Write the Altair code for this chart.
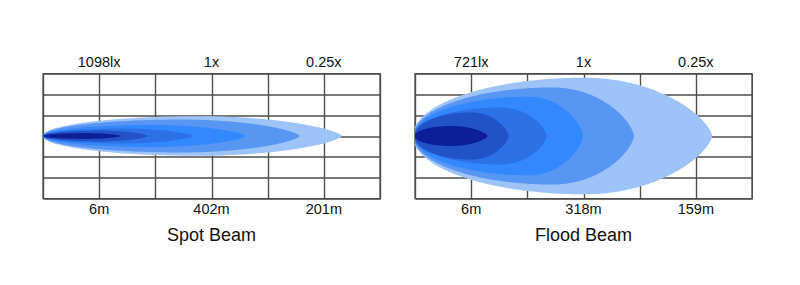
import altair as alt
import numpy as np
import pandas as pd

# ---- data ----
label_pos = [1, 3, 5]                      # grid columns under/over which labels sit

spot_top = ["1098lx", "1x", "0.25x"]
spot_bottom = ["6m", "402m", "201m"]
spot_title = "Spot Beam"
spot_reach = [5.32, 4.57, 3.60, 2.66, 1.87, 1.39]   # length of each contour (grid columns)
spot_half = [0.95, 0.79, 0.53, 0.36, 0.26, 0.14]    # half width of each contour (grid rows)
spot_peak = [0.52, 0.54, 0.54, 0.54, 0.54, 0.54]    # relative position of widest point

flood_top = ["721lx", "1x", "0.25x"]
flood_bottom = ["6m", "318m", "159m"]
flood_title = "Flood Beam"
flood_reach = [5.29, 3.90, 2.99, 2.35, 1.67, 1.29]
flood_half = [2.80, 2.33, 1.89, 1.37, 1.13, 0.48]
flood_peak = [0.57, 0.63, 0.68, 0.65, 0.60, 0.50]

colors = ["#9EC3F9", "#5796F3", "#3388FF", "#2C72E6", "#2152C6", "#0C1F98"]

W, H = 337, 125
FONT = "Liberation Sans"


def outline(reach, half, peak, lead):
    s = np.linspace(0, 1, 241)
    t = (1 - np.cos(np.pi * s)) / 2
    u = np.where(t < peak, (t - peak) / (peak * lead), (t - peak) / (1 - peak))
    base = np.clip(1 - u ** 2, 0, 1)
    f = np.where(u < 0, base ** 0.5, base ** 0.68)
    return pd.DataFrame({"x": t * reach, "lo": -half * f, "hi": half * f})


def panel(top, bottom, title, reach, half, peak, lead):
    xs = alt.Scale(domain=[0, 6], nice=False, zero=False)
    ys = alt.Scale(domain=[-3, 3], nice=False, zero=False)
    layers = []
    for i in range(len(reach)):
        d = outline(reach[i], half[i], peak[i], lead)
        layers.append(
            alt.Chart(d).mark_area(orient="vertical", color=colors[i]).encode(
                x=alt.X("x:Q", scale=xs,
                        axis=alt.Axis(values=list(range(7)), grid=True, labels=False,
                                      ticks=False, domain=False, title=None,
                                      gridColor="#4d4d4d", gridWidth=1.4, gridOpacity=1)),
                y=alt.Y("lo:Q", scale=ys,
                        axis=alt.Axis(values=list(range(-3, 4)), grid=True, labels=False,
                                      ticks=False, domain=False, title=None,
                                      gridColor="#4d4d4d", gridWidth=1.4, gridOpacity=1)),
                y2="hi:Q",
            )
        )
    tdf = pd.DataFrame({"p": label_pos, "top": top, "bottom": bottom})
    toptext = alt.Chart(tdf).mark_text(fontSize=14.5, font=FONT, color="#111111",
                                       baseline="alphabetic", align="center").encode(
        x=alt.X("p:Q", scale=xs), y=alt.value(-6.5), text="top:N")
    bottext = alt.Chart(tdf).mark_text(fontSize=14.5, font=FONT, color="#111111",
                                       baseline="alphabetic", align="center").encode(
        x=alt.X("p:Q", scale=xs), y=alt.value(H + 15.5), text="bottom:N")
    ttl = alt.Chart(pd.DataFrame({"p": [3], "t": [title]})).mark_text(
        fontSize=18, font=FONT, color="#111111", baseline="alphabetic", align="center").encode(
        x=alt.X("p:Q", scale=xs), y=alt.value(H + 42), text="t:N")
    return alt.layer(*layers, toptext, bottext, ttl).properties(width=W, height=H)


left = panel(spot_top, spot_bottom, spot_title, spot_reach, spot_half, spot_peak, 1.0)
right = panel(flood_top, flood_bottom, flood_title, flood_reach, flood_half, flood_peak, 1.012)

chart = alt.hconcat(left, right, spacing=33).properties(
    padding={"left": 42, "top": 53.5, "right": 0, "bottom": 0},
    background="white",
).configure_view(stroke="#4d4d4d", strokeWidth=1.4)

chart.save("out.html", embed_options={"renderer": "svg", "actions": False})
